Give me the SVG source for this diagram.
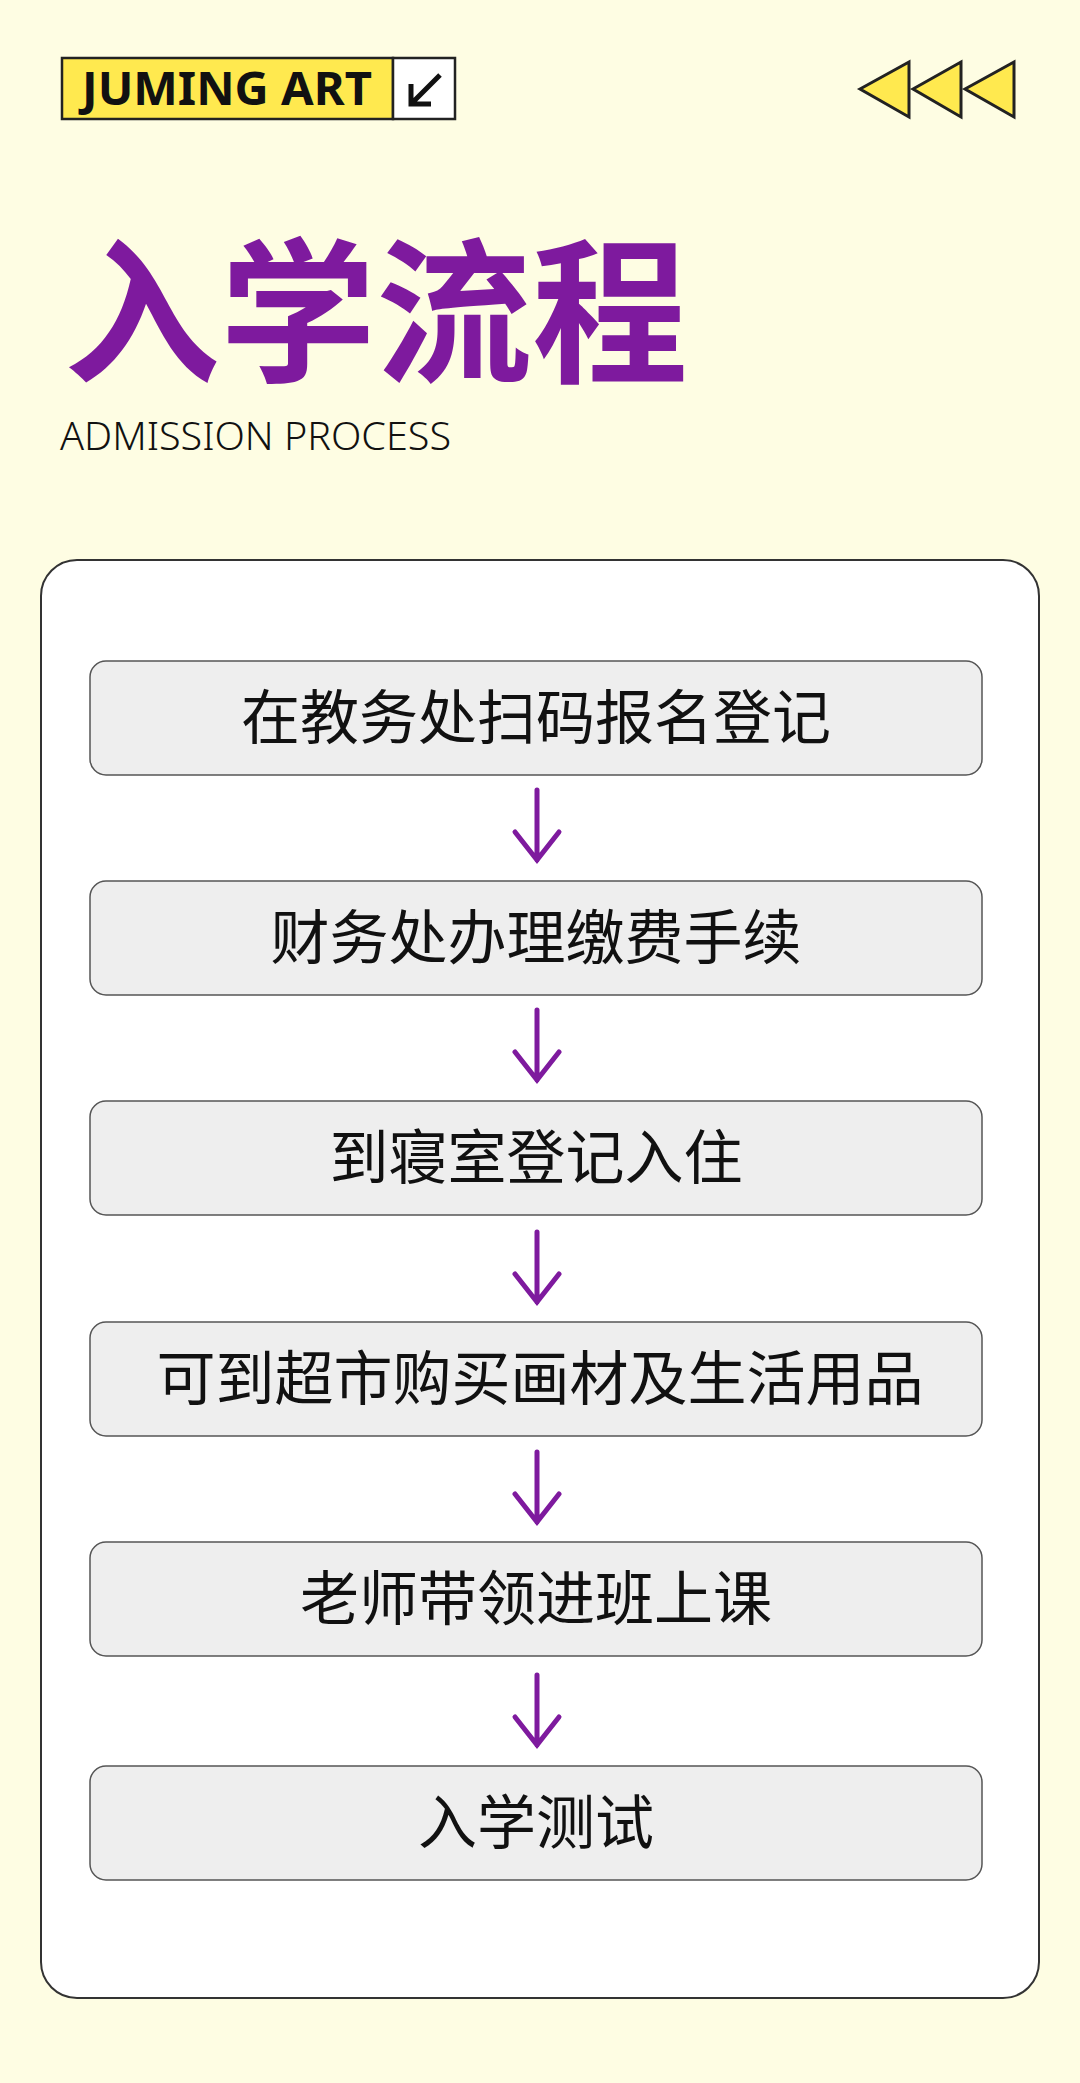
<svg xmlns="http://www.w3.org/2000/svg" width="1080" height="2083" viewBox="0 0 1080 2083">
<style>
.step rect{fill:#EEEEEE;stroke:#555;stroke-width:1.5}
.step text{font-family:"Noto Sans CJK SC",sans-serif;font-size:59px;fill:#111;text-anchor:middle}
.arr{stroke:#7E1A9E;stroke-width:5;fill:none;stroke-linecap:round}
.tri{fill:#FFE94F;stroke:#222;stroke-width:3;stroke-linejoin:miter}
</style>
<rect width="1080" height="2083" fill="#FEFDE3"/>
<g id="badge">
<rect x="62" y="58" width="331" height="61" fill="#FFE94F" stroke="#222" stroke-width="2.5"/>
<rect x="393" y="58" width="62" height="61" fill="#fff" stroke="#222" stroke-width="2.5"/>
<text x="82" y="105" textLength="290" lengthAdjust="spacingAndGlyphs" font-family="'Noto Sans','DejaVu Sans',sans-serif" font-weight="bold" font-size="46" fill="#111">JUMING ART</text>
<path d="M440 75 L412 103 M411 84 L411 104 L431 104" stroke="#111" stroke-width="5" fill="none"/>
</g>
<g id="triangles">
<polygon class="tri" points="860,89 909,62 909,117"/>
<polygon class="tri" points="913,89 961,62 961,117"/>
<polygon class="tri" points="965,89 1014,62 1014,117"/>
</g>
<text id="title" x="64" y="370" font-family="'Noto Sans CJK SC',sans-serif" font-weight="bold" font-size="156" fill="#7E1A9E">入学流程</text>
<text id="subtitle" x="60" y="450" textLength="391" lengthAdjust="spacingAndGlyphs" font-family="'Noto Sans','Open Sans',sans-serif" font-weight="300" font-size="38" fill="#111">ADMISSION PROCESS</text>
<rect id="card" x="41" y="560" width="998" height="1438" rx="36" fill="#fff" stroke="#333" stroke-width="2"/>
<g id="s1" class="step"><rect x="90" y="661" width="892" height="114" rx="16"/><text x="536" y="739">在教务处扫码报名登记</text></g>
<g id="s2" class="step"><rect x="90" y="881" width="892" height="114" rx="16"/><text x="536" y="959">财务处办理缴费手续</text></g>
<g id="s3" class="step"><rect x="90" y="1101" width="892" height="114" rx="16"/><text x="536" y="1179">到寝室登记入住</text></g>
<g id="s4" class="step"><rect x="90" y="1322" width="892" height="114" rx="16"/><text x="540" y="1400">可到超市购买画材及生活用品</text></g>
<g id="s5" class="step"><rect x="90" y="1542" width="892" height="114" rx="16"/><text x="536" y="1620">老师带领进班上课</text></g>
<g id="s6" class="step"><rect x="90" y="1766" width="892" height="114" rx="16"/><text x="536" y="1844">入学测试</text></g>
<g id="connectors" class="arr">
<path d="M537 790 V860 M515 832 L537 860 L559 832"/>
<path d="M537 1010 V1080 M515 1052 L537 1080 L559 1052"/>
<path d="M537 1232 V1302 M515 1274 L537 1302 L559 1274"/>
<path d="M537 1452 V1522 M515 1494 L537 1522 L559 1494"/>
<path d="M537 1675 V1745 M515 1717 L537 1745 L559 1717"/>
</g>
</svg>
